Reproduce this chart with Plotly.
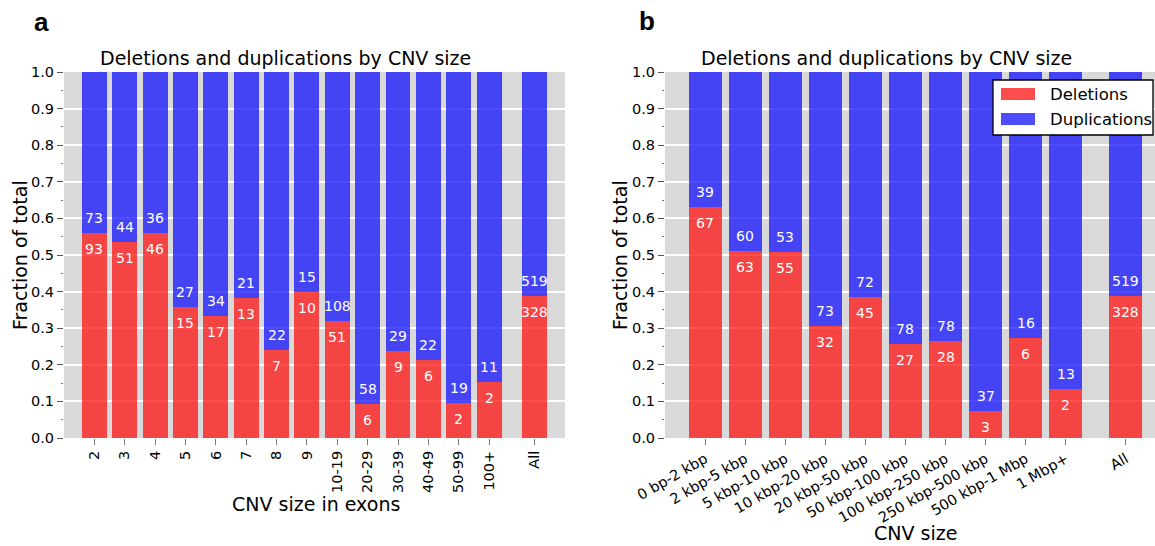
import plotly.graph_objects as go

# CNV counts binned by size in exons (panel a)
exon_bins = ["2", "3", "4", "5", "6", "7", "8", "9", "10-19", "20-29",
             "30-39", "40-49", "50-99", "100+", "All"]
exon_del = [93, 51, 46, 15, 17, 13, 7, 10, 51, 6, 9, 6, 2, 2, 328]
exon_dup = [73, 44, 36, 27, 34, 21, 22, 15, 108, 58, 29, 22, 19, 11, 519]

# CNV counts binned by genomic size (panel b)
size_bins = ["0 bp-2 kbp", "2 kbp-5 kbp", "5 kbp-10 kbp", "10 kbp-20 kbp",
             "20 kbp-50 kbp", "50 kbp-100 kbp", "100 kbp-250 kbp",
             "250 kbp-500 kbp", "500 kbp-1 Mbp", "1 Mbp+", "All"]
size_del = [67, 63, 55, 32, 45, 27, 28, 3, 6, 2, 328]
size_dup = [39, 60, 53, 73, 72, 78, 78, 37, 16, 13, 519]

y_ticks = [i / 10 for i in range(11)]

W, H = 1155, 546
FONT = "DejaVu Sans"
DEL_COLOR = "rgba(253,17,17,0.75)"
DUP_COLOR = "rgba(17,17,253,0.75)"
PLOT_BG = "#d9d9d9"


def positions(labels):
    # the "All" bar is set apart from the binned bars by an extra half slot
    n = len(labels)
    return [float(i) for i in range(n - 1)] + [n - 1 + 0.5]


fig = go.Figure()
annotations = []

panels = [
    ("x", "y", exon_bins, exon_del, exon_dup),
    ("x2", "y2", size_bins, size_del, size_dup),
]

for xref, yref, bins, dels, dups in panels:
    pos = positions(bins)
    totals = [d + u for d, u in zip(dels, dups)]
    del_frac = [d / t for d, t in zip(dels, totals)]
    dup_frac = [u / t for u, t in zip(dups, totals)]
    fig.add_trace(go.Bar(x=pos, y=del_frac, width=0.82, name="Deletions",
                         marker=dict(color=DEL_COLOR, line=dict(width=0)),
                         xaxis=xref, yaxis=yref, showlegend=False))
    fig.add_trace(go.Bar(x=pos, y=dup_frac, width=0.82, name="Duplications",
                         marker=dict(color=DUP_COLOR, line=dict(width=0)),
                         xaxis=xref, yaxis=yref, showlegend=False))
    # count labels on either side of the deletion/duplication boundary
    for p, f, d, u in zip(pos, del_frac, dels, dups):
        annotations.append(dict(x=p, y=f, xref=xref, yref=yref, text=str(u),
                                showarrow=False, yshift=15, yanchor="middle",
                                font=dict(family=FONT, size=14, color="white")))
        annotations.append(dict(x=p, y=f, xref=xref, yref=yref, text=str(d),
                                showarrow=False, yshift=-16, yanchor="middle",
                                font=dict(family=FONT, size=14, color="white")))

y_dom = [(H - 438) / H, (H - 72) / H]
xa_dom = [64 / W, 565 / W]
xb_dom = [665 / W, 1.0]
xb_range = [-1.0, -1.0 + (W - 665) / 40.08]

yaxis_common = dict(
    range=[0, 1], domain=y_dom, tickvals=y_ticks, tickformat=".1f",
    ticks="outside", ticklen=6, tickwidth=1, tickcolor="#555555",
    showgrid=True, gridcolor="white", gridwidth=1.6, zeroline=False,
    showline=False, tickfont=dict(family=FONT, size=14.5, color="black"),
    minor=dict(dtick=0.05, tick0=0, ticks="outside", ticklen=2,
               tickcolor="#777777", showgrid=False),
    fixedrange=True, automargin=False,
)
xaxis_common = dict(
    ticks="outside", ticklen=6, tickwidth=1, tickcolor="#777777",
    showgrid=False, zeroline=False, showline=False,
    tickfont=dict(family=FONT, size=14.5, color="black"), fixedrange=True,
    automargin=False,
)

fig.update_layout(
    width=W, height=H, margin=dict(l=0, r=0, t=0, b=0, autoexpand=False),
    paper_bgcolor="white", plot_bgcolor=PLOT_BG, barmode="stack",
    bargap=0, showlegend=False,
    xaxis=dict(xaxis_common, domain=xa_dom, range=[-1.0, 15.5], anchor="y",
               tickvals=positions(exon_bins), ticktext=exon_bins,
               tickangle=-90),
    yaxis=dict(yaxis_common, anchor="x"),
    xaxis2=dict(xaxis_common, domain=xb_dom, range=xb_range, anchor="y2",
                tickvals=positions(size_bins), ticktext=size_bins,
                tickangle=-30),
    yaxis2=dict(yaxis_common, anchor="x2"),
)

# titles, axis titles and panel letters
text_items = [
    ("a", 41, 22, 26, "Liberation Sans", True, 0),
    ("b", 647, 21, 26, "Liberation Sans", True, 0),
    ("Deletions and duplications by CNV size", 285, 58, 19, FONT, False, 0),
    ("Deletions and duplications by CNV size", 886, 58, 19, FONT, False, 0),
    ("Fraction of total", 20, 255, 19, FONT, False, -90),
    ("Fraction of total", 620, 255, 19, FONT, False, -90),
    ("CNV size in exons", 316, 504, 19, FONT, False, 0),
    ("CNV size", 915, 533, 19, FONT, False, 0),
]
for txt, px, py, size, fam, bold, ang in text_items:
    annotations.append(dict(
        x=px / W, y=1 - py / H, xref="paper", yref="paper",
        text=f"<b>{txt}</b>" if bold else txt, showarrow=False,
        xanchor="center", yanchor="middle", textangle=ang,
        font=dict(family=fam, size=size, color="black")))

# legend box for panel b
shapes = [
    dict(type="rect", xref="paper", yref="paper",
         x0=993 / W, x1=1153 / W, y0=1 - 135 / H, y1=1 - 80 / H,
         fillcolor="white", line=dict(color="black", width=1.3), layer="above"),
]
legend_rows = [("Deletions", DEL_COLOR, 94), ("Duplications", DUP_COLOR, 119)]
for label, color, cy in legend_rows:
    shapes.append(dict(type="rect", xref="paper", yref="paper",
                       x0=1001 / W, x1=1035 / W,
                       y0=1 - (cy + 6) / H, y1=1 - (cy - 6) / H,
                       fillcolor=color, line=dict(width=0), layer="above"))
    annotations.append(dict(x=1048 / W, y=1 - cy / H, xref="paper",
                            yref="paper", text=label, showarrow=False,
                            xanchor="left", yanchor="middle",
                            font=dict(family=FONT, size=16.5, color="black")))

fig.update_layout(annotations=annotations, shapes=shapes)

fig.write_html("out.html")
